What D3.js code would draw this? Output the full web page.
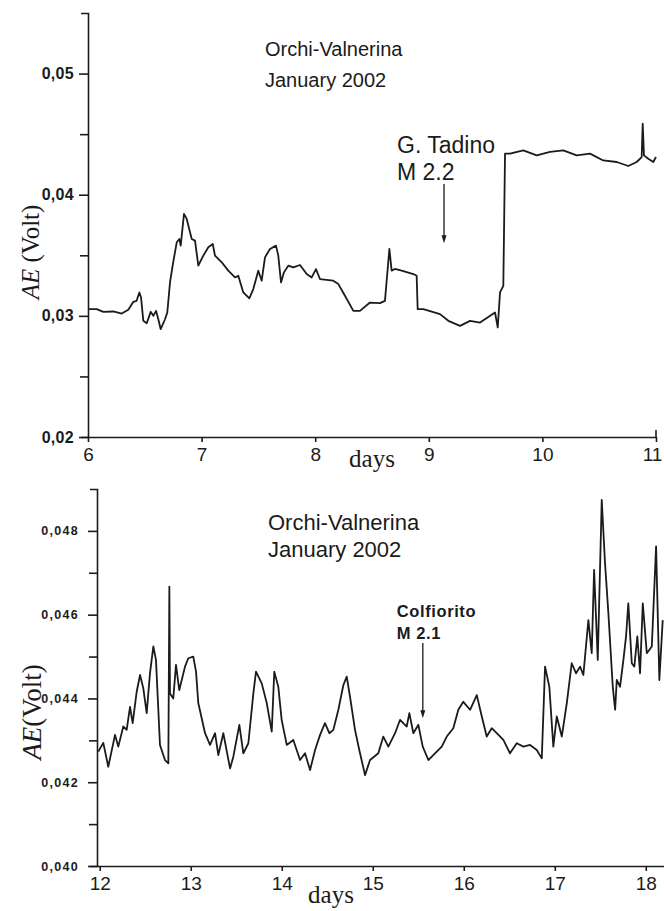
<!DOCTYPE html>
<html>
<head>
<meta charset="utf-8">
<script src="https://cdn.jsdelivr.net/npm/d3@7"></script>
<style>
  body { margin: 0; background: #fff; }
  svg { display: block; }
</style>
</head>
<body>
<svg id="chart"></svg>
<script>
const width = 664
const height = 911

// acoustic emission, Orchi-Valnerina, January 2002 : [day, volt]
const topSeries = [
  [6.0,0.03055],[6.077,0.03055],[6.135,0.03033],[6.223,0.03036],[6.297,0.03019],[6.355,0.0305],
  [6.399,0.03116],[6.428,0.03124],[6.452,0.03193],[6.467,0.03152],[6.487,0.02959],[6.517,0.02939],
  [6.552,0.03033],[6.575,0.0300],[6.599,0.03041],[6.619,0.02972],[6.640,0.0289],[6.678,0.02972],
  [6.698,0.03028],[6.722,0.03276],[6.745,0.03414],[6.781,0.03607],[6.804,0.03635],[6.816,0.0358],
  [6.845,0.03842],[6.869,0.038],[6.913,0.03635],[6.942,0.03621],[6.971,0.03414],[7.015,0.03497],
  [7.059,0.03566],[7.098,0.03593],[7.118,0.03497],[7.177,0.03442],[7.235,0.03373],[7.294,0.03317],
  [7.323,0.03331],[7.367,0.03193],[7.420,0.03144],[7.455,0.03221],[7.499,0.03373],[7.529,0.0329],
  [7.558,0.03483],[7.602,0.03552],[7.655,0.0358],[7.675,0.03497],[7.699,0.03276],[7.725,0.03359],
  [7.763,0.03414],[7.807,0.034],[7.866,0.0342],[7.925,0.03345],[7.969,0.03317],[8.007,0.03386],
  [8.042,0.03304],[8.159,0.0329],[8.204,0.03262],[8.262,0.03166],[8.336,0.03041],[8.394,0.03041],
  [8.482,0.0311],[8.570,0.03105],[8.614,0.03124],[8.653,0.03552],[8.673,0.03373],[8.702,0.03387],
  [8.761,0.03373],[8.864,0.03345],[8.893,0.03331],[8.902,0.03055],[8.952,0.03055],[9.099,0.03014],
  [9.172,0.02959],[9.275,0.02917],[9.363,0.02959],[9.451,0.02945],[9.583,0.03028],[9.607,0.02904],
  [9.627,0.03194],[9.656,0.03248],[9.671,0.04339],[9.715,0.04339],[9.832,0.04366],[9.950,0.04325],
  [10.067,0.04353],[10.184,0.04366],[10.302,0.04325],[10.419,0.04339],[10.536,0.04283],[10.654,0.0427],
  [10.756,0.04237],[10.830,0.0427],[10.874,0.04311],[10.883,0.04587],[10.894,0.04325],[10.932,0.04297],
  [10.976,0.0427],[11.0,0.04311]
]

const bottomSeries = [
  [11.984,0.04273],[12.039,0.04294],[12.094,0.04237],[12.168,0.04313],[12.204,0.04285],[12.259,0.04333],
  [12.296,0.04325],[12.333,0.0438],[12.362,0.04341],[12.406,0.04416],[12.443,0.04456],[12.479,0.04424],
  [12.516,0.04365],[12.552,0.0446],[12.589,0.04524],[12.618,0.04492],[12.662,0.04289],[12.717,0.04253],
  [12.754,0.04245],[12.765,0.04667],[12.772,0.04412],[12.808,0.044],[12.838,0.0448],[12.874,0.0442],
  [12.937,0.04476],[12.973,0.04496],[13.028,0.045],[13.058,0.04464],[13.083,0.04389],[13.157,0.04317],
  [13.212,0.04289],[13.267,0.04317],[13.303,0.04265],[13.358,0.04317],[13.432,0.04233],[13.468,0.04261],
  [13.534,0.04337],[13.578,0.04269],[13.633,0.04293],[13.688,0.04412],[13.717,0.04464],[13.780,0.04436],
  [13.835,0.04389],[13.890,0.04321],[13.918,0.04464],[13.962,0.04428],[13.999,0.04349],[14.055,0.04289],
  [14.127,0.04301],[14.201,0.04253],[14.256,0.04269],[14.311,0.04229],[14.366,0.04277],[14.421,0.04313],
  [14.475,0.04341],[14.523,0.04317],[14.567,0.04325],[14.622,0.04373],[14.677,0.04432],[14.714,0.04452],
  [14.750,0.04404],[14.805,0.04325],[14.852,0.04277],[14.915,0.04217],[14.970,0.04253],[15.061,0.04269],
  [15.116,0.04309],[15.171,0.04285],[15.245,0.04317],[15.300,0.04349],[15.373,0.04333],[15.402,0.04365],
  [15.446,0.04317],[15.501,0.04337],[15.549,0.04285],[15.611,0.04253],[15.684,0.04269],[15.758,0.04285],
  [15.813,0.04309],[15.885,0.04329],[15.940,0.04373],[15.995,0.04392],[16.069,0.04373],[16.143,0.04408],
  [16.198,0.04357],[16.252,0.04309],[16.307,0.04329],[16.362,0.04317],[16.435,0.04301],[16.508,0.04269],
  [16.582,0.04293],[16.655,0.04285],[16.728,0.04289],[16.802,0.04277],[16.857,0.04257],[16.893,0.04476],
  [16.940,0.04428],[16.984,0.04285],[17.022,0.04357],[17.077,0.04309],[17.132,0.04389],[17.186,0.04484],
  [17.234,0.0446],[17.278,0.04476],[17.314,0.04456],[17.369,0.04587],[17.406,0.04508],[17.432,0.04707],
  [17.472,0.04492],[17.516,0.04874],[17.552,0.04723],[17.589,0.04603],[17.637,0.04428],[17.663,0.04373],
  [17.681,0.04444],[17.717,0.04428],[17.754,0.04492],[17.783,0.04548],[17.808,0.04627],[17.846,0.04484],
  [17.874,0.04476],[17.907,0.04548],[17.937,0.0446],[17.967,0.04627],[18.011,0.04508],[18.066,0.04524],
  [18.113,0.04763],[18.149,0.04444],[18.186,0.04587]
]

const topXTicks = [6, 7, 8, 9, 10, 11]
const topYTicks = [0.02, 0.03, 0.04, 0.05]
const topYMinor = [0.025, 0.035, 0.045]
const bottomXTicks = [12, 13, 14, 15, 16, 17, 18]
const bottomYTicks = [0.040, 0.042, 0.044, 0.046, 0.048]
const bottomYMinor = [0.041, 0.043, 0.045, 0.047]

const titleLines = ["Orchi-Valnerina", "January 2002"]
const topQuake = ["G. Tadino", "M 2.2"]
const bottomQuake = ["Colfiorito", "M 2.1"]
const topQuakeAt = [9.134, 0.036]      // day, value of arrow tip
const bottomQuakeAt = [15.55, 0.04353]

const ink = "#1b1b1b"
const sans = "'Liberation Sans', Arial, sans-serif"
const serif = "'Liberation Serif', 'Times New Roman', serif"

const svg = d3.select("#chart")
              .attr("width", width)
              .attr("height", height)
              .style("background", "#fff")

function commaFormat(digits) {
  return d => d3.format("." + digits + "f")(d).replace(".", ",")
}

function drawPanel(p) {
  const x = d3.scaleLinear(p.xDomain, p.xRange)
  const y = d3.scaleLinear(p.yDomain, p.yRange)
  const g = svg.append("g")

  // x axis
  const xAxis = g.append("g")
     .attr("transform", `translate(0,${p.yRange[0]})`)
     .call(d3.axisBottom(x).tickValues(p.xTicks).tickSize(5).tickSizeOuter(0)
             .tickPadding(6).tickFormat(d3.format("d")))
  xAxis.selectAll("text")
       .attr("font-family", sans)
       .attr("font-size", p.xFont)
       .attr("fill", ink)
  // last label sits against the page edge
  xAxis.selectAll(".tick text")
       .filter(d => d === p.xTicks[p.xTicks.length - 1] && p.rightStub)
       .attr("dx", -4)
  if (p.rightStub) {
    g.append("line")
     .attr("x1", p.xRange[1]).attr("x2", p.xRange[1])
     .attr("y1", p.yRange[0]).attr("y2", p.yRange[0] - 7)
     .attr("stroke", ink).attr("stroke-width", 1.6)
  }

  // y axis, labelled ticks
  const yAxis = g.append("g")
     .attr("transform", `translate(${p.xRange[0]},0)`)
     .call(d3.axisLeft(y).tickValues(p.yTicks).tickSize(9).tickSizeOuter(7)
             .tickPadding(p.yPad).tickFormat(commaFormat(p.yDigits)))
  yAxis.selectAll("text")
       .attr("font-family", sans)
       .attr("font-size", p.yFont)
       .attr("font-weight", "bold")
       .attr("letter-spacing", p.ySpacing)
       .attr("fill", ink)

  // y axis, minor ticks
  g.append("g")
   .attr("transform", `translate(${p.xRange[0]},0)`)
   .call(d3.axisLeft(y).tickValues(p.yMinor).tickSize(8).tickFormat(""))
   .call(a => a.select(".domain").remove())

  g.selectAll(".domain, .tick line")
   .attr("stroke", ink)
   .attr("stroke-width", 1.6)

  // trace
  g.append("path")
   .datum(p.series)
   .attr("fill", "none")
   .attr("stroke", ink)
   .attr("stroke-width", 1.8)
   .attr("stroke-linejoin", "round")
   .attr("d", d3.line().x(d => x(d[0])).y(d => y(d[1])))

  // axis titles
  g.append("text")
   .attr("x", p.daysX).attr("y", p.daysY)
   .attr("text-anchor", "middle")
   .attr("font-family", serif)
   .attr("font-size", p.daysFont)
   .attr("fill", ink)
   .text("days")

  const yl = g.append("text")
   .attr("transform", `translate(${p.aeX},${p.aeY}) rotate(-90)`)
   .attr("text-anchor", "middle")
   .attr("font-family", serif)
   .attr("font-size", p.aeFont)
   .attr("fill", ink)
  yl.append("tspan").attr("font-style", "italic").text("AE")
  yl.append("tspan").text(p.aeGap + "(Volt)")

  // title
  g.append("g")
   .selectAll("text")
   .data(titleLines)
   .join("text")
     .attr("x", p.titleX)
     .attr("y", (d, i) => p.titleY + i * p.titleGap)
     .attr("font-family", sans)
     .attr("font-size", p.titleFont)
     .attr("fill", ink)
     .text(d => d)

  // earthquake annotation
  const ax = x(p.quakeAt[0])
  const tip = y(p.quakeAt[1])
  g.append("g")
   .selectAll("text")
   .data(p.quake)
   .join("text")
     .attr("x", ax + p.noteDx)
     .attr("y", (d, i) => p.noteY + i * p.noteGap)
     .attr("font-family", sans)
     .attr("font-size", p.noteFont)
     .attr("font-weight", p.noteWeight)
     .attr("letter-spacing", p.noteSpacing)
     .attr("fill", ink)
     .text(d => d)
  g.append("line")
   .attr("x1", ax).attr("x2", ax)
   .attr("y1", p.noteY + p.noteGap + 4).attr("y2", tip - 6)
   .attr("stroke", ink).attr("stroke-width", 1.3)
  g.append("path")
   .attr("d", `M${ax - 2.5},${tip - 8}L${ax + 2.5},${tip - 8}L${ax},${tip}Z`)
   .attr("fill", ink)
}

drawPanel({
  series: topSeries,
  xDomain: [6, 11], xRange: [88, 656],
  yDomain: [0.02, 0.055], yRange: [437, 13],
  xTicks: topXTicks, yTicks: topYTicks, yMinor: topYMinor,
  yDigits: 2, yFont: 16, ySpacing: 0.3, yPad: 5, xFont: 19,
  rightStub: true,
  daysX: 372, daysY: 467, daysFont: 25,
  aeX: 39, aeY: 252, aeGap: " ", aeFont: 25,
  titleX: 265, titleY: 56, titleGap: 31, titleFont: 20,
  quake: topQuake, quakeAt: topQuakeAt,
  noteDx: -47, noteY: 153, noteGap: 27, noteFont: 23, noteWeight: "normal", noteSpacing: 0
})

drawPanel({
  series: bottomSeries,
  xDomain: [11.97, 18.2], xRange: [97, 664],
  yDomain: [0.040, 0.049], yRange: [866, 489],
  xTicks: bottomXTicks, yTicks: bottomYTicks, yMinor: bottomYMinor,
  yDigits: 3, yFont: 12.5, ySpacing: 1.3, yPad: 9, xFont: 19,
  rightStub: false,
  daysX: 331, daysY: 903, daysFont: 25,
  aeX: 41, aeY: 712, aeGap: "", aeFont: 27,
  titleX: 268, titleY: 530, titleGap: 27, titleFont: 22,
  quake: bottomQuake, quakeAt: bottomQuakeAt,
  noteDx: -26, noteY: 617, noteGap: 22, noteFont: 16.5, noteWeight: "bold", noteSpacing: 0.6
})
</script>
</body>
</html>
